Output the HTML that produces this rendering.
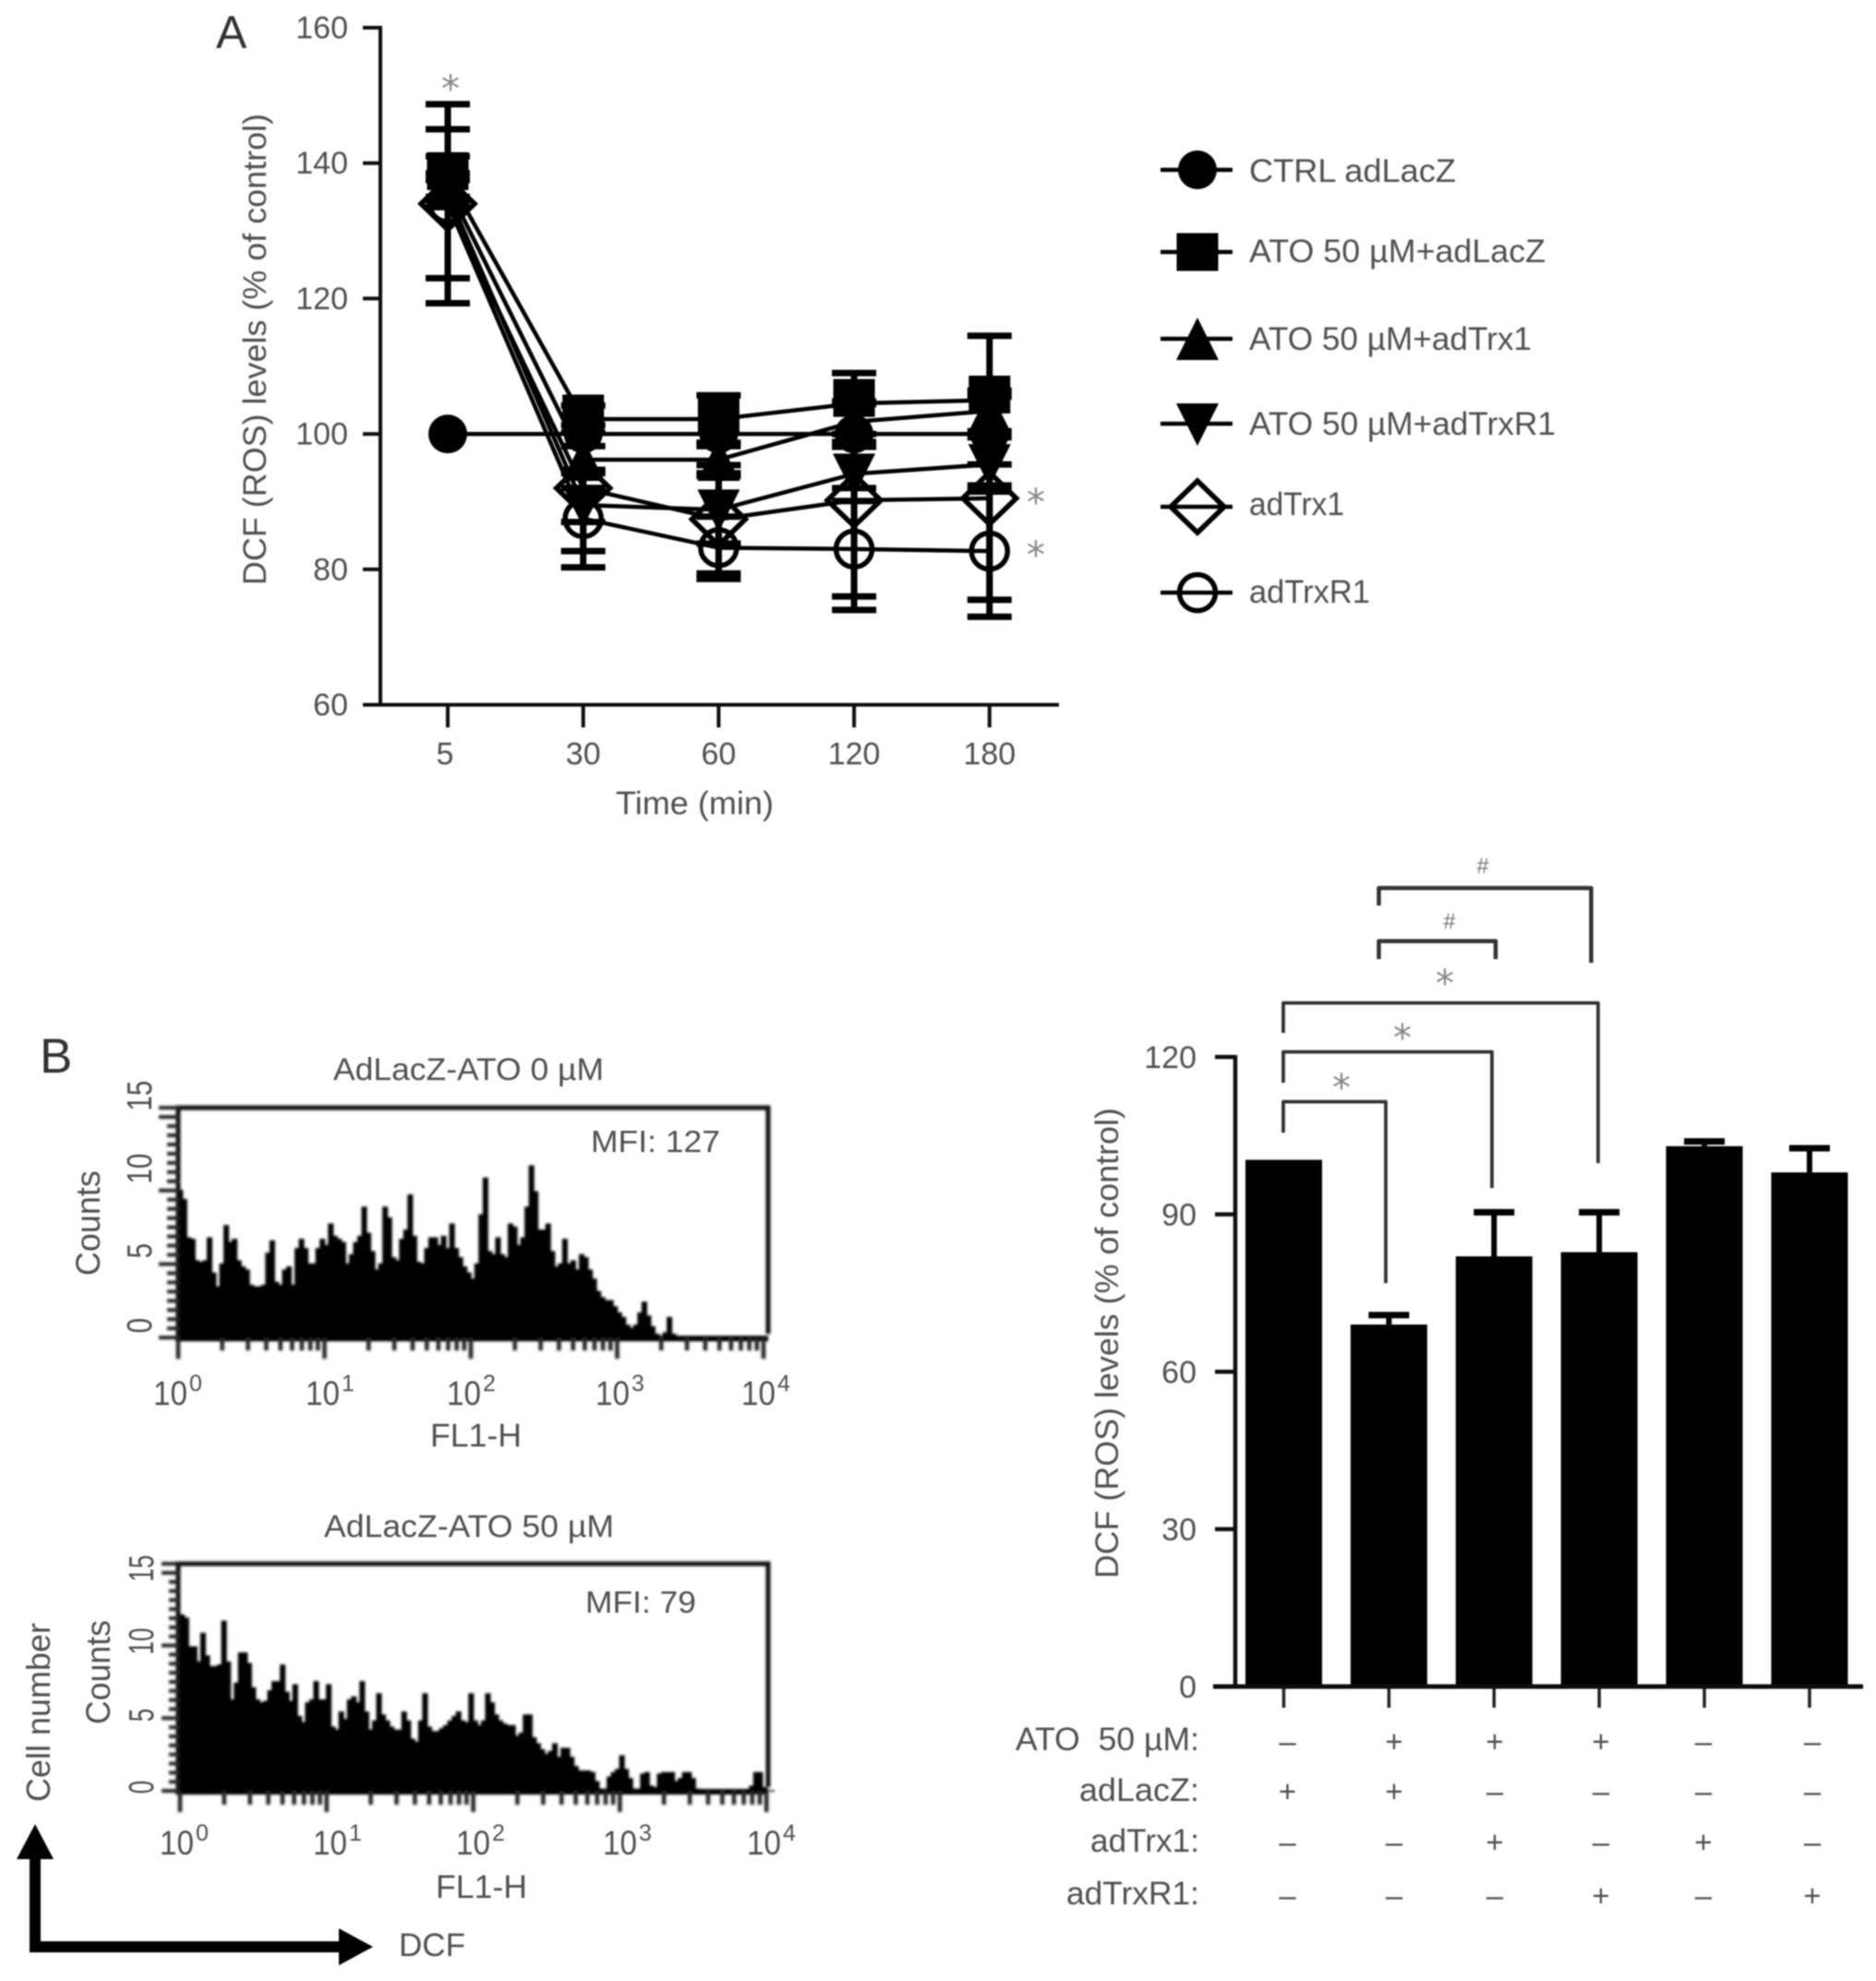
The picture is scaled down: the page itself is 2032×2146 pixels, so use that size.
<!DOCTYPE html>
<html lang="en">
<head>
<meta charset="utf-8">
<title>DCF ROS levels figure</title>
<style>
html,body{margin:0;padding:0;background:#fff;}
svg{display:block;}
text{font-family:"Liberation Sans",sans-serif;fill:#505050;}
.star{font-family:"DejaVu Sans",sans-serif;fill:#888;}
</style>
</head>
<body>
<svg id="fig" xmlns="http://www.w3.org/2000/svg" width="2032" height="2146" viewBox="0 0 2032 2146">
<defs>
<filter id="soft" x="-2%" y="-2%" width="104%" height="104%"><feGaussianBlur stdDeviation="0.75"/></filter>
<filter id="softer" x="-3%" y="-3%" width="106%" height="106%"><feGaussianBlur stdDeviation="1.3"/></filter>
</defs>
<rect x="0" y="0" width="2032" height="2146" fill="#fff"/>
<g id="root" filter="url(#soft)">
  <!-- Panel letters -->
  <text x="234" y="52" font-size="50" fill="#333" style="fill:#333">A</text>
  <text x="43" y="1162" font-size="53" style="fill:#333">B</text>

  <!-- Panel A static text -->
  <g id="panelA"></g>
  <text transform="translate(288,634) rotate(-90)" font-size="35" textLength="511" lengthAdjust="spacingAndGlyphs">DCF (ROS) levels (% of control)</text>
  <text x="667" y="882" font-size="35" textLength="171" lengthAdjust="spacingAndGlyphs">Time (min)</text>
  <text class="star" x="488" y="110" font-size="40" text-anchor="middle">*</text>
  <text class="star" x="1122" y="558" font-size="40" text-anchor="middle">*</text>
  <text class="star" x="1122" y="615" font-size="40" text-anchor="middle">*</text>

  <!-- Legend -->
  <g id="legend"></g>
  <text x="1353" y="197" font-size="35" textLength="224" lengthAdjust="spacingAndGlyphs">CTRL adLacZ</text>
  <text x="1353" y="284" font-size="35" textLength="321" lengthAdjust="spacingAndGlyphs">ATO 50 µM+adLacZ</text>
  <text x="1353" y="379" font-size="35" textLength="306" lengthAdjust="spacingAndGlyphs">ATO 50 µM+adTrx1</text>
  <text x="1353" y="471" font-size="35" textLength="332" lengthAdjust="spacingAndGlyphs">ATO 50 µM+adTrxR1</text>
  <text x="1353" y="558" font-size="35" textLength="103" lengthAdjust="spacingAndGlyphs">adTrx1</text>
  <text x="1353" y="653" font-size="35" textLength="131" lengthAdjust="spacingAndGlyphs">adTrxR1</text>

  <!-- Histogram text -->
  <text x="361" y="1170" font-size="34" textLength="293" lengthAdjust="spacingAndGlyphs">AdLacZ-ATO 0 µM</text>
  <text x="640" y="1248" font-size="33" textLength="140" lengthAdjust="spacingAndGlyphs">MFI: 127</text>
  <text x="466" y="1567" font-size="35" textLength="99" lengthAdjust="spacingAndGlyphs">FL1-H</text>
  <text transform="translate(108,1382) rotate(-90)" font-size="37" textLength="114" lengthAdjust="spacingAndGlyphs">Counts</text>
  <g id="histTop"></g>

  <text x="351" y="1665" font-size="34" textLength="314" lengthAdjust="spacingAndGlyphs">AdLacZ-ATO 50 µM</text>
  <text x="634" y="1747" font-size="33" textLength="120" lengthAdjust="spacingAndGlyphs">MFI: 79</text>
  <text x="472" y="2056" font-size="35" textLength="99" lengthAdjust="spacingAndGlyphs">FL1-H</text>
  <text transform="translate(119,1868) rotate(-90)" font-size="37" textLength="113" lengthAdjust="spacingAndGlyphs">Counts</text>
  <g id="histBottom"></g>

  <text transform="translate(54,1952) rotate(-90)" font-size="36" textLength="194" lengthAdjust="spacingAndGlyphs">Cell number</text>
  <text x="432" y="2119" font-size="35" textLength="72" lengthAdjust="spacingAndGlyphs">DCF</text>
  <g>
    <rect x="32" y="2012" width="12" height="103" fill="#000"/>
    <polygon points="38,1976 58,2014 18,2014" fill="#000"/>
  </g>
  <g>
    <rect x="32" y="2103" width="338" height="12" fill="#000"/>
    <polygon points="404,2109 367,2089 367,2129" fill="#000"/>
  </g>

  <!-- Bar chart -->
  <g id="barChart"></g>
  <text transform="translate(1211,1710) rotate(-90)" font-size="35" textLength="510" lengthAdjust="spacingAndGlyphs">DCF (ROS) levels (% of control)</text>

  <g>
    <text x="1100" y="1896" font-size="35" textLength="199" lengthAdjust="spacingAndGlyphs" xml:space="preserve">ATO  50 µM:</text>
    <text x="1169" y="1951" font-size="35" textLength="130" lengthAdjust="spacingAndGlyphs">adLacZ:</text>
    <text x="1181" y="2006" font-size="35" textLength="118" lengthAdjust="spacingAndGlyphs">adTrx1:</text>
    <text x="1155" y="2063" font-size="35" textLength="144" lengthAdjust="spacingAndGlyphs">adTrxR1:</text>
  </g>

  <g fill="none" stroke="#333" stroke-width="3.8" stroke-linejoin="round">
    <path d="M1390 1227 V1193.5 H1501 V1390"/>
    <path d="M1390 1173 V1139.5 H1616 V1287"/>
    <path d="M1390 1119 V1086.5 H1731 V1260"/>
    <path d="M1493.5 1039 V1019.5 H1620 V1039" stroke-width="4.5"/>
    <path d="M1493.5 981 V962 H1723.5 V1043" stroke-width="4.5"/>
  </g>
  <text class="star" x="1453" y="1192" font-size="40" text-anchor="middle">*</text>
  <text class="star" x="1519" y="1138" font-size="40" text-anchor="middle">*</text>
  <text class="star" x="1565" y="1079" font-size="40" text-anchor="middle">*</text>
  <text x="1570" y="1006" font-size="24" text-anchor="middle" style="fill:#777">#</text>
  <text x="1606" y="946" font-size="24" text-anchor="middle" style="fill:#777">#</text>
</g>
</svg>

<script>
// ---------- Panel A data ----------
const timeLabels = ['5', '30', '60', '120', '180'];
const aYTicks = [60, 80, 100, 120, 140, 160];
const seriesNames = ['ctrl-adlacz', 'ato-adlacz', 'ato-adtrx1', 'ato-adtrxr1', 'adtrx1', 'adtrxr1'];
const seriesKinds = ['circle', 'square', 'up', 'down', 'diamond', 'ring'];
const ctrlValues = [100, 100, 100, 100, 100];
const atoLacZValues = [138, 102.2, 102.2, 104.5, 105];
const atoTrxValues = [136.5, 96.2, 96.2, 101.8, 103.4];
const atoTrxRValues = [135.5, 89.5, 88.8, 94.1, 95.5];
const adTrxValues = [134, 92, 87.4, 90.2, 90.5];
const adTrxRValues = [134, 87.5, 83.2, 83, 82.7];
const ctrlErrors = [0, 0, 0, 0, 0];
const atoLacZErrors = [3, 2, 3.5, 4.5, 9.5];
const atoTrxErrors = [2, 2, 2, 3, 3];
const atoTrxRErrors = [2, 2.5, 5, 4, 4];
const adTrxErrors = [11, 9.3, 8, 14.2, 15];
const adTrxRErrors = [14.7, 7.2, 4.6, 9, 9.7];

// ---------- Histogram data ----------
const decadeLabels = ['10', '10', '10', '10', '10'];
const decadeExponents = ['0', '1', '2', '3', '4'];
const histTicks = ['0', '5', '10', '15'];
const countsAto0 = [9.6,9.0,6.5,6.4,5.0,4.9,5.0,6.5,4.2,3.3,4.8,7.3,6.2,6.4,5.0,4.6,4.4,3.4,3.3,3.3,
3.4,5.5,6.3,3.6,3.4,4.4,4.6,3.4,5.8,6.4,5.8,4.8,4.8,5.8,6.4,6.0,7.4,6.6,6.4,6.2,
4.8,5.4,6.2,6.6,8.5,6.8,5.6,4.4,4.8,8.5,7.8,5.2,5.0,6.4,7.0,9.3,6.6,4.9,4.8,5.8,
6.5,6.5,6.0,6.6,5.8,7.4,5.8,5.2,4.6,4.2,3.8,4.8,8.0,10.4,5.6,5.4,6.5,5.4,5.2,7.4,
7.2,6.0,6.5,8.5,11.2,9.5,7.0,7.0,7.4,5.6,4.6,4.8,6.4,4.8,5.0,4.4,5.4,5.2,4.4,3.8,
3.0,2.6,2.4,2.4,2.0,1.6,1.3,0.8,0.6,0.8,1.6,2.3,1.4,0.7,0.2,0,0.3,1.3,0.2,0];
const countsAto50 = [11.6,11.4,9.5,9.5,8.5,10.4,8.9,8.2,8.2,8.3,11.2,8.5,6.0,7.1,9.1,9.1,8.4,6.8,6.0,5.8,
5.9,6.6,7.2,7.2,8.3,6.5,5.9,7.0,4.9,4.5,5.8,6.0,7.2,6.0,6.0,7.0,4.2,4.0,5.2,4.7,
6.0,6.2,5.8,7.2,5.2,4.0,4.6,6.4,5.0,4.6,4.2,4.0,4.0,5.2,4.6,3.4,3.2,4.6,6.4,4.2,
3.9,3.9,4.1,4.3,4.6,4.9,5.2,4.6,4.5,6.4,4.6,
4.3,4.6,6.4,5.8,5.0,4.6,4.4,4.3,4.3,3.6,3.8,5.0,5.0,3.5,3.1,2.7,2.4,2.6,3.1,2.2,
2.8,2.8,2.2,1.6,1.3,1.3,1.3,1.2,0.6,0.1,0.1,0.9,1.2,1.4,2.3,1.4,0.8,0.1,0.1,1.1,
1.2,0.3,0.2,1.1,1.2,1.2,1.2,0.6,0.8,1.2,1.2,0.8,0.1,0,0,0,0,0,0,0,0,0,0,0,0,0.3,1.2,1.2,0.2,0,0];

// ---------- Bar chart data ----------
const barValues = [100.4, 69, 82, 82.8, 103, 98];
const barErrors = [0, 1.8, 8.4, 7.6, 0.9, 4.6];
const barYTicks = [0, 30, 60, 90, 120];
const atoRow = ['–', '+', '+', '+', '–', '–'];
const lacZRow = ['+', '+', '–', '–', '–', '–'];
const trxRow = ['–', '–', '+', '–', '+', '–'];
const trxRRow = ['–', '–', '–', '+', '–', '+'];

const NS = 'http://www.w3.org/2000/svg';
function add(parent, tag, attrs, txt) {
  const el = document.createElementNS(NS, tag);
  for (const k in attrs) el.setAttribute(k, attrs[k]);
  if (txt !== undefined) el.textContent = txt;
  parent.appendChild(el);
  return el;
}

// ---------- Markers ----------
function drawMarker(parent, kind, x, y, squareLift) {
  let el;
  if (kind === 'circle') {
    el = add(parent, 'circle', {cx: x, cy: y, r: 21, fill: '#000'});
  } else if (kind === 'square') {
    el = add(parent, 'rect', {x: x - 22.5, y: y - 20.5 - squareLift, width: 45, height: 41, fill: '#000'});
  } else if (kind === 'up') {
    el = add(parent, 'polygon', {points: [x, y - 23, x + 23, y + 23, x - 23, y + 23].join(' '), fill: '#000'});
  } else if (kind === 'down') {
    el = add(parent, 'polygon', {points: [x - 23, y - 22, x + 23, y - 22, x, y + 24].join(' '), fill: '#000'});
  } else if (kind === 'diamond') {
    el = add(parent, 'polygon', {points: [x, y - 28, x + 29, y, x, y + 28, x - 29, y].join(' '), fill: 'none', stroke: '#000', 'stroke-width': 5.5});
  } else {
    el = add(parent, 'circle', {cx: x, cy: y, r: 19.5, fill: 'none', stroke: '#000', 'stroke-width': 5.5});
  }
  return el;
}

// ---------- Panel A ----------
(function () {
  const g = document.getElementById('panelA');
  const ax = i => 485 + i * 146.7;
  const ay = v => 763.5 - (v - 60) * 7.335;
  const allValues = [ctrlValues, atoLacZValues, atoTrxValues, atoTrxRValues, adTrxValues, adTrxRValues];
  const allErrors = [ctrlErrors, atoLacZErrors, atoTrxErrors, atoTrxRErrors, adTrxErrors, adTrxRErrors];

  const yAxis = add(g, 'line', {x1: 412, y1: ay(160) - 2, x2: 412, y2: ay(60) + 2, stroke: '#111', 'stroke-width': 4});
  
  
  const xAxis = add(g, 'line', {x1: 393, y1: ay(60), x2: 1147, y2: ay(60), stroke: '#111', 'stroke-width': 4});
  
  

  aYTicks.forEach(v => {
    const tk = add(g, 'line', {x1: 393, y1: ay(v), x2: 412, y2: ay(v), stroke: '#111', 'stroke-width': 4});
    
    
    const lb = add(g, 'text', {x: 377, y: ay(v) + 11.5, 'font-size': 34, 'text-anchor': 'end'}, String(v));
    
    
  });
  timeLabels.forEach((t, i) => {
    const tk = add(g, 'line', {x1: ax(i), y1: ay(60), x2: ax(i), y2: 788, stroke: '#111', 'stroke-width': 4});
    
    
    const lb = add(g, 'text', {x: ax(i) - (i === 0 ? 3 : 0), y: 828, 'font-size': 34, 'text-anchor': 'middle'}, t);
    
    
  });

  allValues.forEach((vals, s) => {
    const sg = add(g, 'g', {});
    
    
    vals.forEach((v, i) => {
      const e = allErrors[s][i];
      if (e > 0) {
        const st = add(sg, 'line', {x1: ax(i), y1: ay(v + e), x2: ax(i), y2: ay(v - e), stroke: '#000', 'stroke-width': 7});
        
        
        [v + e, v - e].forEach(c => {
          const cap = add(sg, 'line', {x1: ax(i) - 24, y1: ay(c), x2: ax(i) + 24, y2: ay(c), stroke: '#000', 'stroke-width': 7});
          
          
        });
      }
    });
    const pts = vals.map((v, i) => ax(i) + ',' + ay(v)).join(' ');
    const ln = add(sg, 'polyline', {points: pts, fill: 'none', stroke: '#000', 'stroke-width': 4.5});
    
    
    vals.forEach((v, i) => {
      const m = drawMarker(sg, seriesKinds[s], ax(i), ay(v), 6);
      
      
    });
  });

  // Legend
  const lg = document.getElementById('legend');
  const legendRows = [184, 273, 367, 459, 549, 642];
  seriesKinds.forEach((k, i) => {
    const entry = add(lg, 'g', {});
    
    
    const l = add(entry, 'line', {x1: 1257, y1: legendRows[i], x2: 1335, y2: legendRows[i], stroke: '#000', 'stroke-width': 4.5});
    
    
    const m = drawMarker(entry, k, 1297, legendRows[i], 0);
    
    
  });
})();

// ---------- Histograms ----------
const BINS_PER_DECADE = 35;
function drawHist(gid, counts, o) {
  const g = document.getElementById(gid);
  const marks = add(g, 'g', {filter: 'url(#softer)'});
  
  
  const hx = lg => o.x0 + lg * o.decade;
  const hy = c => o.y0 - c * o.perCount;

  let d = 'M' + hx(0) + ' ' + hy(0);
  counts.forEach((c, i) => {
    d += ' L' + hx(i / BINS_PER_DECADE) + ' ' + hy(c) + ' L' + hx((i + 1) / BINS_PER_DECADE) + ' ' + hy(c);
  });
  d += ' L' + hx(counts.length / BINS_PER_DECADE) + ' ' + hy(0) + ' Z';
  const area = add(marks, 'path', {d: d, fill: '#000', stroke: '#000', 'stroke-width': 1.5});
  
  

  const frame = add(marks, 'path', {d: 'M193 ' + (o.y0 + 2) + ' V' + o.top + ' H832 V' + (o.y0 - 4), fill: 'none', stroke: '#111', 'stroke-width': 5});
  
  
  const base = add(marks, 'line', {x1: 190, y1: o.y0 + 1, x2: 832, y2: o.y0 + 1, stroke: '#000', 'stroke-width': 6});
  
  

  for (let dec = 0; dec < 4; dec++) {
    for (let m = 1; m <= 9; m++) {
      const lg = dec + Math.log10(m);
      const tk = add(marks, 'line', {x1: hx(lg), y1: o.y0, x2: hx(lg), y2: m === 1 ? o.majorEnd : o.minorEnd, stroke: '#222', 'stroke-width': 4.5});
      
      
    }
  }
  const endTk = add(marks, 'line', {x1: hx(4), y1: o.y0, x2: hx(4), y2: o.majorEnd, stroke: '#222', 'stroke-width': 4.5});
  
  

  for (let k = 0; k <= 25; k++) {
    const c = k * 0.6;
    const major = k % 8 === 0 || k === 25;
    const tk = add(marks, 'line', {x1: major ? o.majorLeft : o.minorLeft, y1: hy(c), x2: 194, y2: hy(c), stroke: '#222', 'stroke-width': 4});
    
    
  }

  histTicks.forEach((t, i) => {
    const tx = add(g, 'text', {transform: 'translate(' + o.tickX + ',' + o.tickCenters[i] + ') rotate(-90)', 'font-size': 38, 'text-anchor': 'middle', textLength: t.length === 2 ? o.tickLen : o.tickLen / 2, lengthAdjust: 'spacingAndGlyphs'}, t);
    
    
  });

  decadeLabels.forEach((t, i) => {
    const b = add(g, 'text', {x: o.labelX[i], y: o.labelY, 'font-size': 37, textLength: 37, lengthAdjust: 'spacingAndGlyphs'}, t);
    
    
    const sup = add(g, 'text', {x: o.labelX[i] + 39, y: o.labelY - 15, 'font-size': 25}, decadeExponents[i]);
    
    
  });
}
drawHist('histTop', countsAto0, {x0: 193, decade: 158.5, y0: 1449, perCount: 16.6, top: 1200, majorEnd: 1472, minorEnd: 1463, majorLeft: 172, minorLeft: 181, tickX: 164, tickCenters: [1436, 1355, 1266, 1187], tickLen: 33, labelX: [166, 331, 484, 645, 803], labelY: 1522});
drawHist('histBottom', countsAto50, {x0: 195, decade: 158.8, y0: 1940, perCount: 16.4, top: 1694, majorEnd: 1963, minorEnd: 1955, majorLeft: 175, minorLeft: 183, tickX: 166, tickCenters: [1936, 1858, 1778, 1699], tickLen: 29, labelX: [173, 339, 494, 653, 809], labelY: 2009});

// ---------- Bar chart ----------
(function () {
  const g = document.getElementById('barChart');
  const by = v => 1827 - v * 5.683;
  const barX = i => 1349 + i * 113.9;
  const barW = 83;

  barValues.forEach((v, i) => {
    const cx = barX(i) + barW / 2;
    const e = barErrors[i];
    if (e > 0) {
      const st = add(g, 'line', {x1: cx, y1: by(v), x2: cx, y2: by(v + e), stroke: '#000', 'stroke-width': 6});
      
      
      const cap = add(g, 'line', {x1: cx - 22, y1: by(v + e), x2: cx + 22, y2: by(v + e), stroke: '#000', 'stroke-width': 7});
      
      
    }
    const r = add(g, 'rect', {x: barX(i), y: by(v), width: barW, height: by(0) - by(v), fill: '#000'});
    
    
    const tk = add(g, 'line', {x1: cx, y1: by(0), x2: cx, y2: 1850, stroke: '#222', 'stroke-width': 3.5});
    
    
  });

  const yAx = add(g, 'line', {x1: 1338, y1: by(120) - 2, x2: 1338, y2: by(0), stroke: '#111', 'stroke-width': 4.5});
  
  
  const xAx = add(g, 'line', {x1: 1314, y1: by(0), x2: 2018, y2: by(0), stroke: '#111', 'stroke-width': 5});
  
  

  barYTicks.forEach(v => {
    const tk = add(g, 'line', {x1: 1316, y1: by(v), x2: 1338, y2: by(v), stroke: '#111', 'stroke-width': 4.5});
    
    
    const lb = add(g, 'text', {x: 1296, y: by(v) + 12, 'font-size': 34, 'text-anchor': 'end'}, String(v));
    
    
  });

  const colX = [1394.5, 1510, 1619, 1734, 1845, 1963];
  const rowSets = [atoRow, lacZRow, trxRow, trxRRow];
  const rowY = [1887, 1941, 1996, 2054];
  rowSets.forEach((row, r) => {
    row.forEach((s, c) => {
      const t = add(g, 'text', {x: colX[c], y: rowY[r] + 11, 'font-size': 33, 'text-anchor': 'middle'}, s);
      
      
    });
  });
})();
</script>
</body>
</html>
